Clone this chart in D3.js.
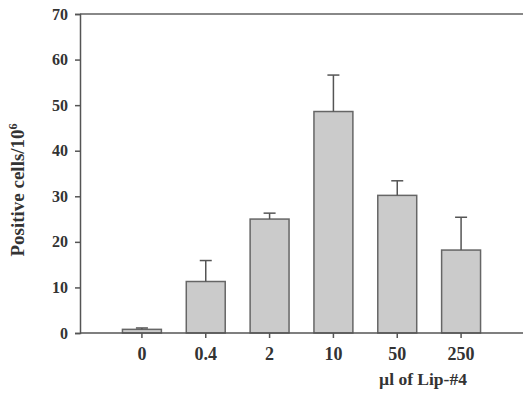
<!DOCTYPE html>
<html>
<head>
<meta charset="utf-8">
<script src="https://cdn.jsdelivr.net/npm/d3@7"></script>
<style>
  body { margin: 0; background: #fff; }
  text { font-family: 'Liberation Serif', serif; font-weight: bold; fill: #333; }
</style>
</head>
<body>
<div id="chart"></div>
<script>
const doses = ['0', '0.4', '2', '10', '50', '250']
const means = [0.8, 11.3, 25.0, 48.6, 30.2, 18.2]
const errors = [0.3, 4.6, 1.3, 8.0, 3.2, 7.2]
const yTicks = [0, 10, 20, 30, 40, 50, 60, 70]

const W = 523
const H = 393
const axisColor = '#555'

const svg = d3.select('#chart')
  .append('svg')
  .attr('width', W)
  .attr('height', H)

const x = d3.scaleBand()
  .domain(doses)
  .range([110, 493])
  .paddingInner(0.39)
  .paddingOuter(0.195)

const y = d3.scaleLinear()
  .domain([0, 70])
  .range([333, 14])

// top frame line
svg.append('line')
  .attr('x1', 80).attr('x2', W)
  .attr('y1', y(70)).attr('y2', y(70))
  .attr('stroke', '#888').attr('stroke-width', 2)

// bars
svg.selectAll('.bar')
  .data(doses)
  .enter()
  .append('rect')
  .attr('class', 'bar')
  .attr('x', d => x(d))
  .attr('width', x.bandwidth())
  .attr('y', (d, i) => y(means[i]))
  .attr('height', (d, i) => y(0) - y(means[i]))
  .attr('fill', '#cbcbcb')
  .attr('stroke', '#666')
  .attr('stroke-width', 1.5)

// error bars
const err = svg.selectAll('.err')
  .data(doses)
  .enter()
  .append('g')
  .attr('class', 'err')

err.append('line')
  .attr('x1', d => x(d) + x.bandwidth() / 2)
  .attr('x2', d => x(d) + x.bandwidth() / 2)
  .attr('y1', (d, i) => y(means[i]))
  .attr('y2', (d, i) => y(means[i] + errors[i]))
  .attr('stroke', '#555').attr('stroke-width', 1.5)

err.append('line')
  .attr('x1', d => x(d) + x.bandwidth() / 2 - 6)
  .attr('x2', d => x(d) + x.bandwidth() / 2 + 6)
  .attr('y1', (d, i) => y(means[i] + errors[i]))
  .attr('y2', (d, i) => y(means[i] + errors[i]))
  .attr('stroke', '#555').attr('stroke-width', 1.5)

// y axis
const yAxis = svg.append('g')
  .attr('transform', 'translate(80,0)')
  .call(d3.axisLeft(y).tickValues(yTicks).tickSize(5).tickPadding(7))
yAxis.select('.domain').attr('stroke', axisColor).attr('stroke-width', 1.5)
yAxis.selectAll('.tick line').attr('stroke', axisColor).attr('stroke-width', 1.5)
yAxis.selectAll('.tick text')
  .style('font-family', "'Liberation Serif', serif")
  .style('font-weight', 'bold')
  .style('font-size', '16px')
  .attr('fill', '#3a3a3a')

// x axis
const xAxis = svg.append('g')
  .attr('transform', 'translate(0,' + y(0) + ')')
  .call(d3.axisBottom(x).tickSize(5).tickSizeOuter(0).tickPadding(9))
xAxis.select('.domain').attr('d', 'M80,0H' + W).attr('stroke', axisColor).attr('stroke-width', 1.5)
xAxis.selectAll('.tick line').attr('stroke', axisColor).attr('stroke-width', 1.5)
xAxis.selectAll('.tick text')
  .style('font-family', "'Liberation Serif', serif")
  .style('font-weight', 'bold')
  .style('font-size', '18px')
  .attr('fill', '#3a3a3a')

// axis titles
svg.append('text')
  .attr('x', 423)
  .attr('y', 385)
  .attr('text-anchor', 'middle')
  .style('font-size', '17.5px')
  .text('µl of Lip-#4')

const yTitle = svg.append('text')
  .attr('transform', 'translate(24,190) rotate(-90)')
  .attr('text-anchor', 'middle')
  .style('font-size', '19px')
yTitle.append('tspan').text('Positive cells/10')
yTitle.append('tspan').attr('dy', -7).style('font-size', '12px').text('6')
</script>
</body>
</html>
